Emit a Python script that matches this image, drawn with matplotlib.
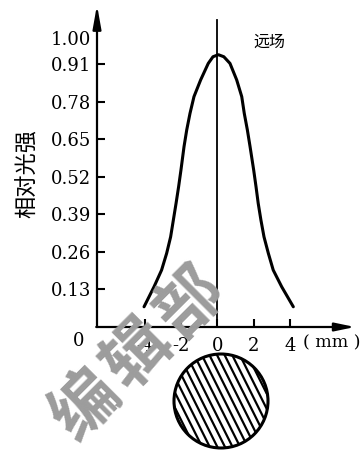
import numpy as np
import matplotlib
matplotlib.use("Agg")
import matplotlib.pyplot as plt
import matplotlib.patches as patches

# far-field relative intensity profile
pos_mm = [-4.06, -3.51, -3.09, -2.81, -2.59, -2.44, -2.29, -2.15, -2.02,
          -1.85, -1.70, -1.52, -1.30, -0.93, -0.51, -0.25, 0.05, 0.35,
          0.69, 1.06, 1.34, 1.48, 1.65, 1.80, 2.0, 2.13, 2.25, 2.40, 2.57,
          2.81, 3.08, 3.55, 4.19]
intensity = [0.070, 0.139, 0.197, 0.255, 0.312, 0.370, 0.428, 0.485, 0.543,
             0.624, 0.682, 0.739, 0.797, 0.855, 0.912, 0.935, 0.942, 0.935,
             0.912, 0.855, 0.797, 0.739, 0.682, 0.624, 0.543, 0.485, 0.428,
             0.370, 0.312, 0.255, 0.197, 0.139, 0.070]

y_ticks = [0.13, 0.26, 0.39, 0.52, 0.65, 0.78, 0.91, 1.00]
y_labels = ["0.13", "0.26", "0.39", "0.52", "0.65", "0.78", "0.91", "1.00"]
x_ticks = [-4, -2, 0, 2, 4]
x_labels = ["-4", "-2", "0", "2", "4"]
watermark = ["编", "辑", "部"]

W, H = 363, 458
cjk = ["Noto Sans CJK SC", "DejaVu Sans"]
num_font = "DejaVu Serif"

fig = plt.figure(figsize=(W / 100, H / 100), dpi=100)

# main axes, placed in pixels
ax = fig.add_axes([97 / W, (H - 327) / H, (355 - 97) / W, (327 - 5) / H])
ax.set_xlim(-6.66, 7.6)
ax.set_ylim(0, 1.114)
for s in ax.spines.values():
    s.set_visible(False)
ax.patch.set_alpha(0)

# axes drawn as arrows
arrow = dict(arrowstyle="-|>,head_length=1.4,head_width=0.25", color="black",
             lw=1.6, shrinkA=0, shrinkB=0)
ax.annotate("", xy=(0, 1), xytext=(0, 0), xycoords="axes fraction",
            arrowprops=arrow)
ax.annotate("", xy=(1, 0), xytext=(-0.003, 0), xycoords="axes fraction",
            arrowprops=dict(arrow, arrowstyle="-|>,head_length=1.2,head_width=0.25"))

ax.axvline(0, ymax=1.062 / 1.114, color="black", lw=1.3)
ax.plot(pos_mm, intensity, color="black", lw=2.2, solid_capstyle="round",
        solid_joinstyle="round")

ax.set_yticks(y_ticks)
ax.set_yticklabels(y_labels, fontfamily=num_font, fontsize=13)
ax.tick_params(axis="y", direction="in", length=6, width=1.5, pad=4)
ax.yaxis.get_major_ticks()[-1].tick1line.set_visible(False)

ax.set_xticks(x_ticks)
ax.set_xticklabels(x_labels, fontfamily=num_font, fontsize=13)
ax.tick_params(axis="x", direction="in", length=6, width=1.5, pad=7)

ax.text(-0.07, -0.045, "0", transform=ax.transAxes, ha="center", va="center",
        fontfamily=num_font, fontsize=13)
ax.text(6.3, -0.05, "( mm )", ha="center", va="center",
        fontfamily=num_font, fontsize=12.5, transform=ax.get_xaxis_transform())
ax.text(2.85, 0.985, "远场", ha="center", va="center", fontfamily=cjk,
        fontsize=11.5)
fig.text(28 / W, 1 - 174 / H, "相对光强", rotation=90, ha="center",
         va="center", fontfamily=cjk, fontsize=16)

# hatched circle below the plot
ax2 = fig.add_axes([(221 - 50) / W, (H - 401 - 50) / H, 100 / W, 100 / H])
ax2.set_xlim(-50, 50)
ax2.set_ylim(-50, 50)
ax2.set_aspect("equal")
ax2.axis("off")
circ = patches.Circle((0, 0), 47, facecolor="white", edgecolor="black", lw=2.2)
ax2.add_patch(circ)
d = np.array([1.0, -2.0]) / np.sqrt(5)
n = np.array([2.0, 1.0]) / np.sqrt(5)
for k in np.arange(-6.5, 7.0, 1.0):
    c = n * k * 6.8
    ln, = ax2.plot([c[0] - 60 * d[0], c[0] + 60 * d[0]],
                   [c[1] - 60 * d[1], c[1] + 60 * d[1]], color="black", lw=1.6)
    ln.set_clip_path(circ)

# grey watermark
for i, ch in enumerate(watermark):
    fig.text((86 + 52 * i) / W, 1 - (406 - 52 * i) / H, ch, rotation=45,
             ha="center", va="center", fontfamily=cjk, fontweight="bold",
             fontsize=48, color="#9c9c9c", zorder=0)

fig.savefig("out.png", dpi=100)
